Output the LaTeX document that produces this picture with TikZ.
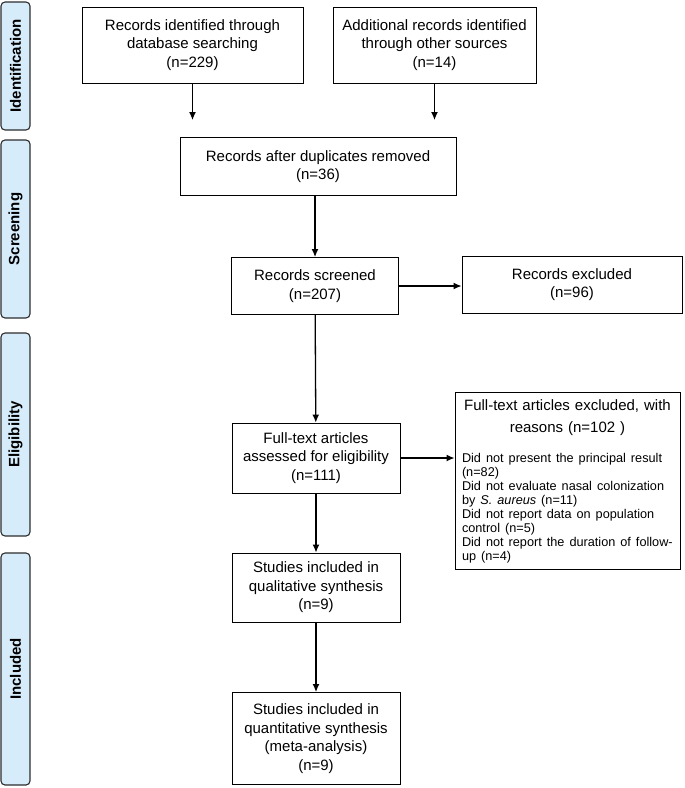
\documentclass[tikz,border=0pt]{standalone}
\usepackage{fontspec}
\setmainfont{Liberation Sans}
\usetikzlibrary{arrows.meta,positioning}
\definecolor{stagefill}{RGB}{214,236,251}
\definecolor{stagedraw}{RGB}{45,45,45}

\begin{document}
\begin{tikzpicture}[x=1pt,y=-1pt,
		box/.style={draw,line width=0.9pt,align=center,inner sep=3pt,font=\fontsize{15}{18.5}\selectfont},
		stage/.style={draw=stagedraw,fill=stagefill,rounded corners=4pt,line width=1.1pt,minimum height=29pt,rotate=90,font=\bfseries\fontsize{15}{18}\selectfont},
		flow/.style={-{Latex[length=8pt,width=7pt]},line width=1.3pt}]
		\useasboundingbox (0,0) rectangle (685,788);
		% stages
		\node[stage,minimum width=128pt] (ident) at (15.5,66) {Identification};
		\node[stage,minimum width=178pt] (screen) at (15.5,229) {Screening};
		\node[stage,minimum width=203pt] (elig) at (15.5,434.5) {Eligibility};
		\node[stage,minimum width=232pt] (incl) at (15.5,669) {Included};
		% boxes
		\node[box,minimum width=221pt,minimum height=76pt] (dbsearch) at (192.5,45) {Records identified through\\database searching\\(n=229)};
		\node[box,minimum width=203pt,minimum height=76pt] (other) at (434.5,45) {Additional records identified\\through other sources\\(n=14)};
		\node[box,minimum width=276pt,minimum height=58pt] (dedup) at (318,166.5) {Records after duplicates removed\\(n=36)};
		\node[box,minimum width=167pt,minimum height=57pt] (screened) at (315,286) {Records screened\\(n=207)};
		\node[box,minimum width=220pt,minimum height=57pt] (recexcl) at (572,284.5) {Records excluded\\(n=96)};
		\node[box,minimum width=168pt,minimum height=70pt] (fulltext) at (316,458) {Full-text articles\\assessed for eligibility\\(n=111)};
		\node[box,anchor=north,text width=211pt,inner xsep=7pt,inner ysep=7pt,align=left] (ftexcl) at (567.5,392) {\vspace*{4pt}\centering \mbox{Full-text articles excluded, with}\\reasons (n=102 )\par
			\vspace{16pt}\raggedright\fontsize{12.7}{13.9}\selectfont
			\mbox{Did not present the principal result}\\(n=82)\\\mbox{Did not evaluate nasal colonization}\\by \textit{S. aureus} (n=11)\\\mbox{Did not report data on population}\\control (n=5)\\\mbox{Did not report the duration of follow-}\\up (n=4)\par};
		\node[box,minimum width=168pt,minimum height=69pt] (qual) at (316,587.5) {Studies included in\\qualitative synthesis\\(n=9)};
		\node[box,minimum width=168pt,minimum height=92pt] (quant) at (316,738.5) {Studies included in\\quantitative synthesis\\(meta-analysis)\\(n=9)};
		% arrows
		\draw[flow,shorten >=17pt] (dbsearch) -- (dbsearch |- dedup.north);
		\draw[flow,shorten >=17pt] (other) -- (other |- dedup.north);
		\draw[flow] (dedup.south -| screened) -- (screened);
		\draw[flow] (screened.east) -- (screened.east -| recexcl.west);
		\draw[flow] (screened) -- (fulltext);
		\draw[flow] (fulltext.east) -- (fulltext.east -| ftexcl.west);
		\draw[flow] (fulltext) -- (qual);
		\draw[flow] (qual) -- (quant);
	\end{tikzpicture}
\end{document}
